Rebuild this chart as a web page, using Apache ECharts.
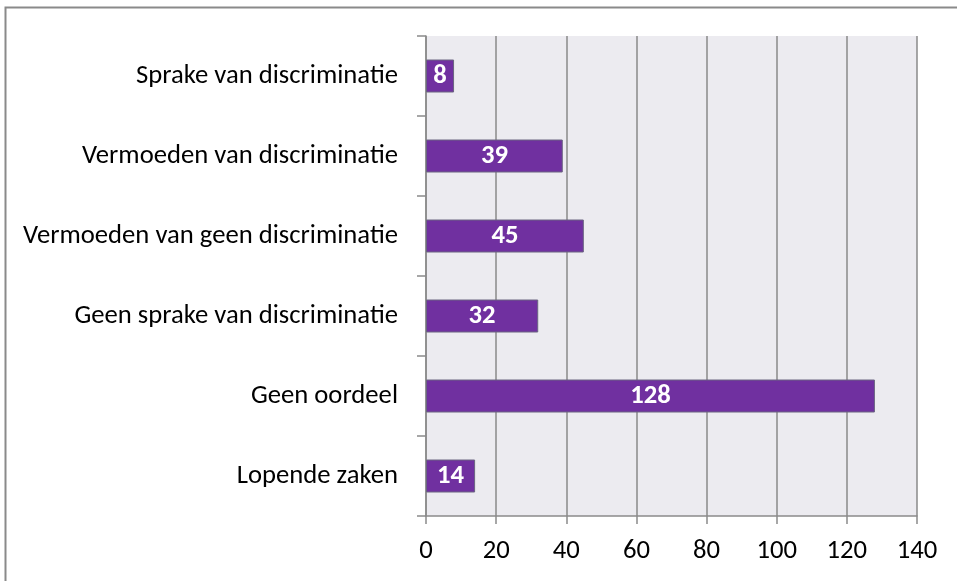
<!DOCTYPE html>
<html><head><meta charset="utf-8">
<script src="https://cdn.jsdelivr.net/npm/echarts@6/dist/echarts.min.js"></script>
<style>html,body{margin:0;padding:0;background:#fff}#c{width:957px;height:581px}</style>
</head><body><div id="c"></div>
<script>
const categories = ["Sprake van discriminatie","Vermoeden van discriminatie","Vermoeden van geen discriminatie","Geen sprake van discriminatie","Geen oordeel","Lopende zaken"];
const values = [8, 39, 45, 32, 128, 14];
const xTicks = [0, 20, 40, 60, 80, 100, 120, 140];

const chart = echarts.init(document.getElementById('c'), null, {renderer:'canvas'});
const FONT = 'Carlito, "Open Sans", sans-serif';
const FS = 26.67;
chart.setOption({
  animation:false,
  backgroundColor:'#fff',
  graphic:[{type:'polyline', shape:{points:[[5.5,1000],[5.5,7.5],[1000,7.5]]}, style:{stroke:'#8a8a8a', lineWidth:2, fill:null}, silent:true}],
  grid:{left:426, top:36, right:40, bottom:65, show:true, backgroundColor:'#ecebf0', borderWidth:0},
  xAxis:{type:'value', min:xTicks[0], max:xTicks[xTicks.length-1], interval:20,
    axisLine:{show:true, lineStyle:{color:'#8a8a8a', width:1.5}},
    axisTick:{show:true, length:8, lineStyle:{color:'#8a8a8a', width:1.5}},
    splitLine:{show:true, lineStyle:{color:'#8a8a8a', width:1.5}},
    axisLabel:{color:'#000', fontSize:FS, fontFamily:FONT, margin:22}},
  yAxis:{type:'category', data:categories, inverse:true,
    axisLine:{show:true, lineStyle:{color:'#8a8a8a', width:1.5}},
    axisTick:{show:true, length:9, lineStyle:{color:'#8a8a8a', width:1.5}},
    axisLabel:{color:'#000', fontSize:FS, fontFamily:FONT, margin:28}},
  series:[{type:'bar', data:values, barWidth:33,
    itemStyle:{color:'#7030a0', borderColor:'#6a6480', borderWidth:1},
    label:{show:true, position:'inside', color:'#fff', fontWeight:'bold', fontSize:FS, fontFamily:FONT}}]
});
</script></body></html>
